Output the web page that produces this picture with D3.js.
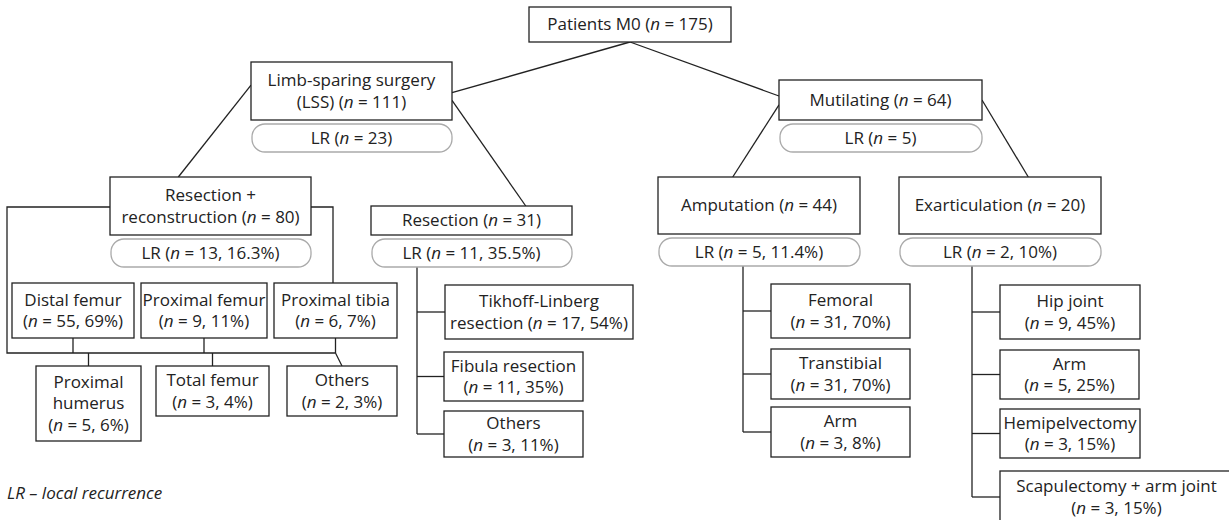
<!DOCTYPE html>
<html>
<head>
<meta charset="utf-8">
<script src="https://cdn.jsdelivr.net/npm/d3@7"></script>
<style>
  body { margin: 0; background: #fff; }
  svg { display: block; font-family: 'Open Sans', sans-serif; }
</style>
</head>
<body>
<div id="chart"></div>
<script>
// flowchart nodes, in drawing order
const names = [
  'Patients M0', 'Limb-sparing surgery (LSS)', 'Mutilating',
  'Resection + reconstruction', 'Resection', 'Amputation', 'Exarticulation',
  'Distal femur', 'Proximal femur', 'Proximal tibia', 'Proximal humerus', 'Total femur', 'Others',
  'Tikhoff-Linberg resection', 'Fibula resection', 'Others',
  'Femoral', 'Transtibial', 'Arm',
  'Hip joint', 'Arm', 'Hemipelvectomy', 'Scapulectomy + arm joint'
];
const counts = [175, 111, 64, 80, 31, 44, 20, 55, 9, 6, 5, 3, 2, 17, 11, 3, 31, 31, 3, 9, 5, 3, 3];
const shares = [null, null, null, null, null, null, null, 69, 11, 7, 6, 4, 3, 54, 35, 11, 70, 70, 8, 45, 25, 15, 15];
const parents = [-1, 0, 0, 1, 1, 2, 2, 3, 3, 3, 3, 3, 3, 4, 4, 4, 5, 5, 5, 6, 6, 6, 6];
// local recurrence per node (null = not shown)
const lrCounts = [null, 23, 5, 13, 11, 5, 2];
const lrShares = [null, null, null, 16.3, 35.5, 11.4, 10];
const footnote = 'LR – local recurrence';

// layout: box x, y, w, h
const boxes = [
  [529, 7, 202, 35], [251, 62, 201, 58], [779, 80, 203, 40],
  [110, 177, 201, 58], [371, 206, 201, 29], [658, 177, 202, 57], [899, 177, 202, 57],
  [12, 283, 122, 55], [141, 283, 126, 55], [274, 283, 123, 55],
  [36, 366, 105, 75], [156, 366, 113, 50], [287, 366, 110, 50],
  [445, 285, 188, 54], [444, 352, 139, 49], [444, 411, 139, 46],
  [771, 284, 139, 54], [771, 349, 139, 50], [771, 407, 139, 50],
  [1000, 285, 140, 54], [1000, 350, 139, 49], [1000, 409, 140, 49], [1000, 471, 233, 52]
];
// word index after which a label wraps
const breaks = {1: [2], 3: [2], 7: [2], 8: [2], 9: [2], 10: [1, 2], 11: [2], 12: [1],
  13: [1], 14: [2], 15: [1], 16: [1], 17: [1], 18: [1], 19: [2], 20: [1], 21: [1], 22: [4]};
// diagonal links: parent, fx, fy, child, fx, fy
const diagonals = [
  [0, .5, 1, 1, 1, .53], [0, .5, 1, 2, 0, .4],
  [1, 0, .4, 3, .34, 0], [1, 1, .66, 4, .77, 0],
  [2, 0, .62, 5, .37, 0], [2, 1, .5, 6, .64, 0]
];
const trunkX = {4: 417, 5: 743, 6: 972};

const width = 1229, height = 520;
const ink = '#222';
const fontSize = 17;

const svg = d3.select('#chart').append('svg')
  .attr('width', width).attr('height', height);

const nodes = names.map((name, i) => {
  const [x, y, w, h] = boxes[i];
  let label = `${name} (n = ${counts[i]}${shares[i] != null ? ', ' + shares[i] + '%' : ''})`;
  const words = label.split(' ');
  const cuts = [0, ...(breaks[i] || []), words.length];
  const lines = d3.pairs(cuts).map(([a, b]) => words.slice(a, b).join(' '));
  return {i, name, x, y, w, h, lines, parent: parents[i]};
});

const lines = svg.append('g')
  .attr('fill', 'none').attr('stroke', ink).attr('stroke-width', 1.3);

// diagonal connectors
lines.selectAll('line.diag')
  .data(diagonals)
  .enter().append('line')
  .attr('x1', d => nodes[d[0]].x + d[1] * nodes[d[0]].w)
  .attr('y1', d => nodes[d[0]].y + d[2] * nodes[d[0]].h)
  .attr('x2', d => nodes[d[3]].x + d[4] * nodes[d[3]].w)
  .attr('y2', d => nodes[d[3]].y + d[5] * nodes[d[3]].h);

// elbow trees below the LR pills
const pillBottom = i => nodes[i].y + nodes[i].h + 4 + 28;
Object.keys(trunkX).forEach(p => {
  p = +p;
  const kids = nodes.filter(n => n.parent === p);
  const tx = trunkX[p];
  const last = d3.max(kids, k => k.y + k.h / 2);
  lines.append('line')
    .attr('x1', tx).attr('x2', tx)
    .attr('y1', pillBottom(p)).attr('y2', last);
  lines.selectAll(null)
    .data(kids)
    .enter().append('line')
    .attr('x1', tx).attr('x2', k => k.x)
    .attr('y1', k => k.y + k.h / 2).attr('y2', k => k.y + k.h / 2);
});

// bracket around the resection + reconstruction sites
const rr = nodes[3];
const sites = nodes.filter(n => n.parent === 3);
const row1 = sites.slice(0, 3), row2 = sites.slice(3);
const barY = 353, sideY = rr.y + 30, leftX = 7;
const cx = n => n.x + n.w / 2;
const barEnd = cx(row1[2]);
lines.append('path')
  .attr('d', `M${rr.x},${sideY}H${leftX}V${barY}H${barEnd}`);
lines.append('path')
  .attr('d', `M${rr.x + rr.w},${sideY}H${row1[2].x + 59}V${row1[2].y}`);
lines.selectAll(null)
  .data(row1)
  .enter().append('line')
  .attr('x1', cx).attr('x2', cx)
  .attr('y1', n => n.y + n.h).attr('y2', barY);
lines.selectAll(null)
  .data(row2)
  .enter().append('line')
  .attr('x1', n => Math.min(cx(n), barEnd)).attr('x2', cx)
  .attr('y1', barY).attr('y2', n => n.y);

// boxes
svg.append('g').selectAll('rect')
  .data(nodes)
  .enter().append('rect')
  .attr('x', d => d.x).attr('y', d => d.y)
  .attr('width', d => d.w).attr('height', d => d.h)
  .attr('fill', '#fff').attr('stroke', ink).attr('stroke-width', 1.3);

// write a line with italic "n"
function writeLine(sel, str) {
  str.split(/(\bn\b)/).forEach(part => {
    if (!part) return;
    sel.append('tspan').text(part)
      .attr('font-style', part === 'n' ? 'italic' : null);
  });
}

const lineH = 21.5;
const labels = svg.append('g')
  .attr('font-size', fontSize).attr('fill', '#222').attr('text-anchor', 'middle');
nodes.forEach(n => {
  const y0 = n.y + n.h / 2 - (n.lines.length - 1) * lineH / 2;
  n.lines.forEach((s, k) => {
    const t = labels.append('text')
      .attr('x', n.x + n.w / 2).attr('y', y0 + k * lineH)
      .attr('dy', '0.35em');
    writeLine(t, s);
  });
});

// local recurrence pills
const lrData = lrCounts.map((c, i) => ({i, c, s: lrShares[i]})).filter(d => d.c != null);
const pills = svg.append('g');
pills.selectAll('rect')
  .data(lrData)
  .enter().append('rect')
  .attr('x', d => nodes[d.i].x + 1).attr('y', d => nodes[d.i].y + nodes[d.i].h + 4)
  .attr('width', d => nodes[d.i].w - 1).attr('height', 28)
  .attr('rx', 13)
  .attr('fill', '#fff').attr('stroke', '#aaa').attr('stroke-width', 1.3);
lrData.forEach(d => {
  const n = nodes[d.i];
  const t = pills.append('text')
    .attr('x', n.x + n.w / 2).attr('y', n.y + n.h + 18)
    .attr('dy', '0.35em')
    .attr('text-anchor', 'middle').attr('font-size', fontSize).attr('fill', '#222');
  writeLine(t, `LR (n = ${d.c}${d.s != null ? ', ' + d.s + '%' : ''})`);
});

svg.append('text')
  .attr('x', 7).attr('y', 493).attr('dy', '0.35em')
  .attr('font-size', 17).attr('font-style', 'italic').attr('fill', '#222')
  .text(footnote);
</script>
</body>
</html>
